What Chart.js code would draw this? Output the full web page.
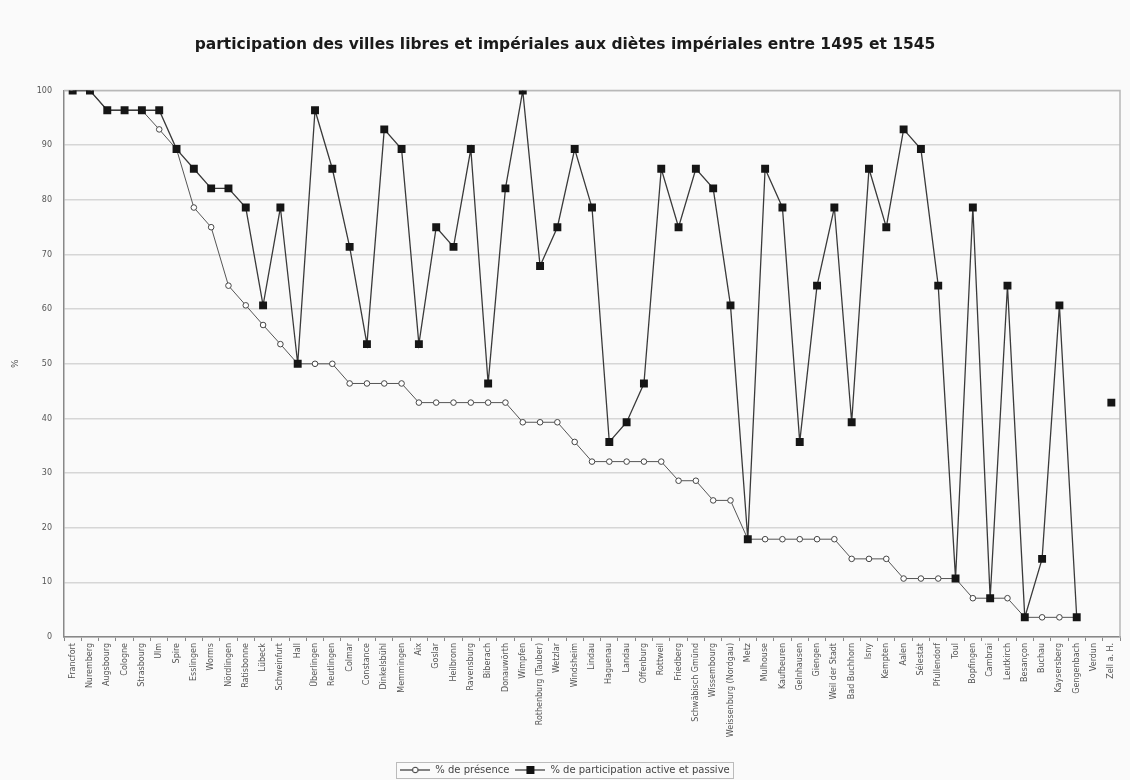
<!DOCTYPE html>
<html>
<head>
<meta charset="utf-8">
<script src="https://cdn.jsdelivr.net/npm/chart.js@4/dist/chart.umd.min.js"></script>
<style>
    html, body { margin: 0; padding: 0; background: #fafafa; }
    #wrap { width: 1130px; height: 780px; position: relative; }
</style>
</head>
<body>
<div id="wrap"><canvas id="dietesChart"></canvas></div>
<script>
const titre = 'participation des villes libres et impériales aux diètes impériales entre 1495 et 1545';

const villes = [
    'Francfort', 'Nuremberg', 'Augsbourg', 'Cologne', 'Strasbourg', 'Ulm', 'Spire', 'Esslingen', 'Worms', 'Nördlingen',
    'Ratisbonne', 'Lübeck', 'Schweinfurt', 'Hall', 'Überlingen', 'Reutlingen', 'Colmar', 'Constance', 'Dinkelsbühl', 'Memmingen',
    'Aix', 'Goslar', 'Heilbronn', 'Ravensburg', 'Biberach', 'Donauwörth', 'Wimpfen', 'Rothenburg (Tauber)', 'Wetzlar', 'Windsheim',
    'Lindau', 'Haguenau', 'Landau', 'Offenburg', 'Rottweil', 'Friedberg', 'Schwäbisch Gmünd', 'Wissembourg', 'Weissenburg (Nordgau)', 'Metz',
    'Mulhouse', 'Kaufbeuren', 'Gelnhausen', 'Giengen', 'Weil der Stadt', 'Bad Buchhorn', 'Isny', 'Kempten', 'Aalen', 'Sélestat',
    'Pfullendorf', 'Toul', 'Bopfingen', 'Cambrai', 'Leutkirch', 'Besançon', 'Buchau', 'Kaysersberg', 'Gengenbach', 'Verdun',
    'Zell a. H.'
];

// % de présence (cercles blancs)
const presence = [
    100, 100, 96.4, 96.4, 96.4, 92.9, 89.3, 78.6, 75, 64.3,
    60.7, 57.1, 53.6, 50, 50, 50, 46.4, 46.4, 46.4, 46.4,
    42.9, 42.9, 42.9, 42.9, 42.9, 42.9, 39.3, 39.3, 39.3, 35.7,
    32.1, 32.1, 32.1, 32.1, 32.1, 28.6, 28.6, 25, 25, 17.9,
    17.9, 17.9, 17.9, 17.9, 17.9, 14.3, 14.3, 14.3, 10.7, 10.7,
    10.7, 10.7, 7.1, 7.1, 7.1, 3.6, 3.6, 3.6, 3.6, null,
    null
];

// % de participation active et passive (carrés noirs)
const participation = [
    100, 100, 96.4, 96.4, 96.4, 96.4, 89.3, 85.7, 82.1, 82.1,
    78.6, 60.7, 78.6, 50, 96.4, 85.7, 71.4, 53.6, 92.9, 89.3,
    53.6, 75, 71.4, 89.3, 46.4, 82.1, 100, 67.9, 75, 89.3,
    78.6, 35.7, 39.3, 46.4, 85.7, 75, 85.7, 82.1, 60.7, 17.9,
    85.7, 78.6, 35.7, 64.3, 78.6, 39.3, 85.7, 75, 92.9, 89.3,
    64.3, 10.7, 78.6, 7.1, 64.3, 3.6, 14.3, 60.7, 3.6, null,
    42.9
];

const yTicks = [0, 10, 20, 30, 40, 50, 60, 70, 80, 90, 100];

function legendIcon(square) {
    const c = document.createElement('canvas');
    c.width = 30;
    c.height = 10;
    const g = c.getContext('2d');
    g.strokeStyle = '#333';
    g.lineWidth = 1.2;
    g.beginPath();
    g.moveTo(0, 5);
    g.lineTo(30, 5);
    g.stroke();
    if (square) {
        g.fillStyle = '#111';
        g.fillRect(11, 1, 8, 8);
    } else {
        g.fillStyle = '#fff';
        g.lineWidth = 1;
        g.beginPath();
        g.arc(15, 5, 2.8, 0, 2 * Math.PI);
        g.fill();
        g.stroke();
    }
    return c;
}

const legendBorder = {
    id: 'legendBorder',
    afterDraw(chart) {
        const boxes = chart.legend.legendHitBoxes;
        if (!boxes || !boxes.length) return;
        const left = Math.min(...boxes.map(b => b.left)) - 4;
        const right = Math.max(...boxes.map(b => b.left + b.width)) + 4;
        const top = Math.min(...boxes.map(b => b.top)) - 3;
        const bottom = Math.max(...boxes.map(b => b.top + b.height)) + 3;
        const ctx = chart.ctx;
        ctx.save();
        ctx.strokeStyle = '#bbb';
        ctx.lineWidth = 1;
        ctx.strokeRect(Math.round(left) + 0.5, Math.round(top) + 0.5, Math.round(right - left), Math.round(bottom - top));
        ctx.restore();
    }
};

const plotFrame = {
    id: 'plotFrame',
    beforeDatasetsDraw(chart) {
        const a = chart.chartArea;
        const ctx = chart.ctx;
        ctx.save();
        ctx.strokeStyle = '#b8b8b8';
        ctx.lineWidth = 1.5;
        ctx.beginPath();
        ctx.moveTo(a.left, a.top);
        ctx.lineTo(a.right, a.top);
        ctx.lineTo(a.right, a.bottom);
        ctx.stroke();
        ctx.restore();
    }
};

new Chart(document.getElementById('dietesChart'), {
    type: 'line',
    data: {
        labels: villes,
        datasets: [
            {
                label: '% de présence',
                data: presence,
                borderColor: '#555',
                borderWidth: 1,
                pointStyle: 'circle',
                pointRadius: 2.8,
                pointBackgroundColor: '#fff',
                pointBorderColor: '#444',
                pointBorderWidth: 1,
                tension: 0,
                spanGaps: false,
                order: 2
            },
            {
                label: '% de participation active et passive',
                data: participation,
                borderColor: '#3a3a3a',
                borderWidth: 1.3,
                pointStyle: 'rect',
                pointRadius: 5.6,
                pointBackgroundColor: '#151515',
                pointBorderColor: '#151515',
                pointBorderWidth: 0,
                tension: 0,
                spanGaps: false,
                order: 1
            }
        ]
    },
    options: {
        responsive: true,
        maintainAspectRatio: false,
        animation: false,
        layout: {
            padding: { left: 10, right: 10, top: 0, bottom: -5 }
        },
        scales: {
            x: {
                offset: true,
                grid: {
                    offset: true,
                    drawOnChartArea: false,
                    drawTicks: true,
                    tickLength: 4,
                    color: '#888'
                },
                border: { color: '#888', width: 1.5 },
                ticks: {
                    autoSkip: false,
                    maxRotation: 90,
                    minRotation: 90,
                    padding: 2,
                    color: '#555',
                    font: { family: 'DejaVu Sans', size: 8 }
                },
                afterFit(scale) {
                    scale.height = 122;
                }
            },
            y: {
                min: 0,
                max: 100,
                afterBuildTicks(scale) {
                    scale.ticks = yTicks.map(v => ({ value: v }));
                },
                grid: {
                    color: '#d6d6d6',
                    lineWidth: 1.5,
                    drawTicks: false
                },
                border: { color: '#888', width: 1.5 },
                ticks: {
                    padding: 12,
                    color: '#555',
                    font: { family: 'DejaVu Sans', size: 8 }
                },
                title: {
                    display: true,
                    text: '%',
                    color: '#555',
                    padding: 0,
                    font: { family: 'DejaVu Sans', size: 9 }
                },
                afterFit(scale) {
                    scale.width = 54;
                }
            }
        },
        plugins: {
            title: {
                display: true,
                text: titre,
                color: '#1a1a1a',
                padding: { top: 36, bottom: 36 },
                font: { family: 'DejaVu Sans', size: 15.5, weight: 'bold' }
            },
            legend: {
                position: 'bottom',
                labels: {
                    usePointStyle: true,
                    pointStyleWidth: 30,
                    padding: 6,
                    color: '#444',
                    font: { family: 'DejaVu Sans', size: 10 },
                    sort: (a, b) => a.datasetIndex - b.datasetIndex,
                    generateLabels(chart) {
                        const items = Chart.defaults.plugins.legend.labels.generateLabels(chart);
                        items.forEach(item => {
                            item.pointStyle = legendIcon(item.datasetIndex === 1);
                        });
                        return items;
                    }
                }
            },
            tooltip: { enabled: false }
        }
    },
    plugins: [plotFrame, legendBorder]
});
</script>
</body>
</html>
